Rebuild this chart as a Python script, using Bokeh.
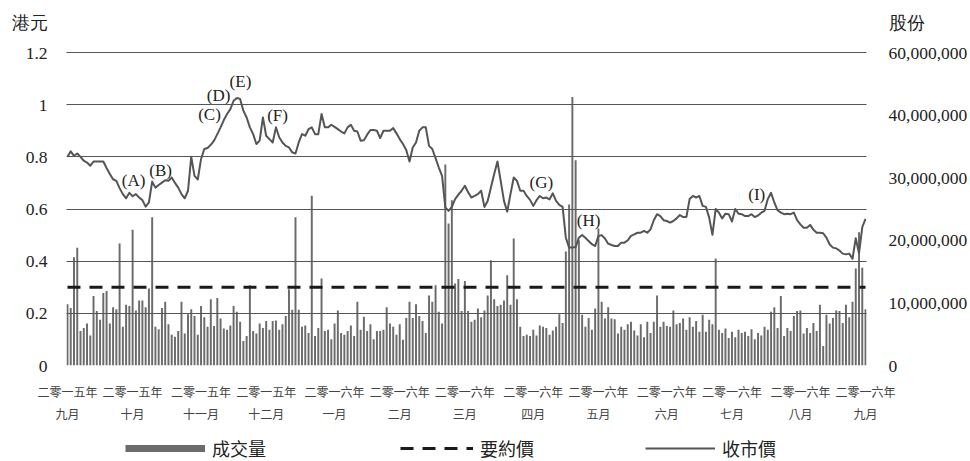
from bokeh.plotting import figure
from bokeh.models import (Range1d, LinearAxis, FixedTicker, NumeralTickFormatter,
                          Legend, LegendItem, ColumnDataSource)
from bokeh.layouts import column
from bokeh.embed import file_html
from bokeh.resources import INLINE
from bokeh.core.properties import value

# ---------------- data ----------------
month_labels = ["二零一五年\n九月", "二零一五年\n十月", "二零一五年\n十一月", "二零一五年\n十二月",
                "二零一六年\n一月", "二零一六年\n二月", "二零一六年\n三月", "二零一六年\n四月",
                "二零一六年\n五月", "二零一六年\n六月", "二零一六年\n七月", "二零一六年\n八月",
                "二零一六年\n九月"]

close_price = [
    0.800, 0.821, 0.804, 0.813, 0.800, 0.785, 0.778, 0.766, 0.782, 0.782,
    0.782, 0.782, 0.757, 0.734, 0.714, 0.708, 0.680, 0.657, 0.641, 0.662,
    0.649, 0.657, 0.644, 0.634, 0.609, 0.625, 0.705, 0.682, 0.692, 0.701,
    0.710, 0.708, 0.721, 0.700, 0.682, 0.657, 0.641, 0.670, 0.800, 0.727,
    0.713, 0.791, 0.830, 0.834, 0.846, 0.862, 0.887, 0.913, 0.941, 0.964,
    0.983, 1.015, 1.026, 1.022, 0.977, 0.951, 0.913, 0.887, 0.849, 0.862,
    0.951, 0.881, 0.868,
    0.855, 0.913, 0.875, 0.855, 0.842, 0.836, 0.817, 0.813, 0.855, 0.887,
    0.881, 0.906, 0.913, 0.887, 0.887, 0.964, 0.913, 0.913, 0.923, 0.915,
    0.906, 0.897, 0.890, 0.913, 0.923, 0.900, 0.897, 0.862, 0.864, 0.885,
    0.903, 0.903, 0.900, 0.872, 0.900, 0.900, 0.900, 0.910, 0.890, 0.868,
    0.849, 0.826, 0.782, 0.836, 0.855, 0.900, 0.913, 0.913, 0.842, 0.830,
    0.795, 0.759, 0.727, 0.606, 0.593, 0.608, 0.638, 0.655, 0.670, 0.689,
    0.664,
    0.644, 0.650, 0.657, 0.670, 0.608, 0.631, 0.682, 0.734, 0.782, 0.708,
    0.631, 0.590, 0.657, 0.721, 0.708, 0.670, 0.670, 0.650, 0.635, 0.612,
    0.634, 0.650, 0.641, 0.644, 0.637, 0.660, 0.631, 0.616, 0.608, 0.490,
    0.452, 0.452, 0.454, 0.490, 0.500, 0.490, 0.477, 0.465, 0.458, 0.496,
    0.500, 0.487, 0.467, 0.462, 0.458, 0.458, 0.471, 0.471, 0.480, 0.497,
    0.503, 0.509, 0.509, 0.516, 0.509, 0.522, 0.557, 0.580, 0.573, 0.557,
    0.554,
    0.548, 0.554, 0.564, 0.577, 0.569, 0.569, 0.638, 0.650, 0.644, 0.650,
    0.612, 0.608, 0.567, 0.501, 0.600, 0.586, 0.564, 0.582, 0.580, 0.552,
    0.600, 0.582, 0.580, 0.573, 0.573, 0.580, 0.569, 0.575, 0.586, 0.593,
    0.638, 0.662, 0.625, 0.595, 0.586, 0.580, 0.582, 0.580, 0.586, 0.557,
    0.541, 0.528, 0.528, 0.539, 0.521, 0.509, 0.509, 0.507, 0.490, 0.464,
    0.452, 0.449, 0.441, 0.429, 0.426, 0.429, 0.409, 0.488, 0.430, 0.530,
    0.562,
]

volume_millions = [
    9.8, 9.2, 17.3, 18.8, 5.5, 6.0, 6.7, 4.8, 11.1, 8.7,
    7.3, 11.6, 11.9, 6.7, 9.3, 9.0, 19.5, 6.2, 9.7, 9.5,
    21.7, 8.8, 10.4, 10.4, 9.3, 12.3, 23.7, 6.2, 5.8, 9.2,
    10.2, 6.6, 4.9, 4.6, 5.5, 10.2, 5.1, 8.2, 9.0, 7.9,
    4.9, 9.5, 7.7, 6.2, 10.6, 6.3, 10.8, 7.5, 5.9, 5.7,
    6.4, 9.5, 8.6, 7.0, 3.9, 4.7, 12.8, 5.5, 5.1, 6.7,
    6.0, 7.1, 5.7,
    7.1, 7.2, 5.7, 6.6, 7.9, 12.2, 8.9, 23.7, 8.9, 6.2,
    6.4, 5.2, 27.1, 4.7, 6.0, 13.9, 5.5, 5.7, 4.2, 6.7,
    8.8, 5.2, 4.9, 5.5, 6.4, 4.7, 10.2, 5.7, 7.8, 5.5,
    6.6, 4.2, 5.5, 5.5, 5.7, 9.3, 6.7, 6.2, 4.9, 6.6,
    4.1, 7.6, 10.2, 7.6, 9.8, 7.9, 7.1, 5.2, 11.2, 10.2,
    12.8, 8.6, 6.7, 32.1, 22.7, 26.4, 13.1, 13.8, 8.7, 13.5,
    8.7,
    7.0, 7.3, 9.1, 7.7, 8.8, 11.2, 16.8, 10.6, 9.5, 9.7,
    10.4, 14.4, 9.7, 20.3, 10.6, 6.2, 4.7, 4.9, 4.7, 5.7,
    4.8, 6.4, 6.2, 6.0, 4.9, 5.6, 6.2, 8.2, 6.8, 18.2,
    25.7, 42.9, 32.8, 20.0, 8.1, 6.2, 7.6, 5.7, 9.1, 21.9,
    10.2, 7.5, 9.3, 7.5, 7.4, 5.1, 6.2, 5.7, 6.6, 7.0,
    5.6, 4.8, 6.6, 4.5, 7.0, 5.2, 7.0, 11.2, 6.2, 7.0,
    6.3,
    6.2, 8.8, 6.6, 6.8, 7.5, 5.7, 7.7, 6.2, 7.1, 5.4,
    8.1, 5.4, 7.3, 6.6, 17.1, 5.7, 5.2, 5.9, 4.4, 5.4,
    4.5, 5.7, 5.2, 5.4, 4.7, 5.8, 4.2, 5.2, 4.8, 6.2,
    5.7, 8.6, 9.3, 6.0, 11.1, 4.7, 6.0, 5.5, 7.9, 8.7,
    8.8, 5.1, 6.0, 5.2, 6.8, 5.5, 9.7, 3.1, 8.1, 6.7,
    7.6, 8.8, 8.7, 6.8, 9.7, 7.7, 10.2, 15.5, 21.3, 15.6,
    9.0,
]

offer_price = 0.3

price_ticks = [0, 0.2, 0.4, 0.6, 0.8, 1.0, 1.2]
volume_ticks = [0, 10000000, 20000000, 30000000, 40000000, 50000000]
volume_tick_labels = ["0", "10,000,000", "20,000,000", "30,000,000", "40,000,000", "60,000,000"]

ann_text = ["(A)", "(B)", "(C)", "(D)", "(E)", "(F)", "(G)", "(H)", "(I)"]
ann_day = [20.3, 28.6, 43.6, 46.4, 53.1, 64.5, 145.5, 160.0, 211.6]
ann_price = [0.708, 0.746, 0.962, 1.035, 1.088, 0.958, 0.700, 0.555, 0.654]

left_unit = "港元"
right_unit = "股份"
legend_labels = ["成交量", "要約價", "收市價"]

# ---------------- layout constants ----------------
SERIF = "Liberation Serif"
CJK = "Noto Sans CJK TC"
W = 970
TOP = 16            # frame top (px)
FRAME_H = 349       # frame height (px)
BOTTOM = 60         # space for month labels
MAIN_H = TOP + FRAME_H + BOTTOM
LEG_H = 461 - MAIN_H
GRID_SPAN_PX = 313  # pixels between 0 and the 1.2 grid line
PRICE_TOP = 1.2 * FRAME_H / GRID_SPAN_PX
VOL_TOP = 50e6 * FRAME_H / GRID_SPAN_PX
UNIT_FROM_BOTTOM = FRAME_H - 6      # unit captions sit 6 px below the frame top
left_unit_tick = PRICE_TOP * UNIT_FROM_BOTTOM / FRAME_H
right_unit_tick = VOL_TOP * UNIT_FROM_BOTTOM / FRAME_H

BAR_COLOR = "#6b6b6b"
LINE_COLOR = "#555555"
DASH_COLOR = "#1a1a1a"
TEXT = "#222222"

# ---------------- main chart ----------------
N = len(close_price)
day = list(range(N))
volume = [v * 1e6 for v in volume_millions]
offer = [offer_price] * N

src = ColumnDataSource(dict(day=day, close=close_price, volume=volume, offer=offer))

p = figure(width=W, height=MAIN_H,
           x_range=Range1d(-0.3, N - 1 + 0.3), y_range=Range1d(0, PRICE_TOP),
           output_backend="svg", toolbar_location=None,
           min_border_left=66, min_border_right=104,
           min_border_top=TOP, min_border_bottom=BOTTOM)
p.outline_line_color = None
p.xgrid.visible = False
p.extra_y_ranges = {"vol": Range1d(0, VOL_TOP)}

bars = p.vbar(x="day", top="volume", width=0.6, bottom=0, source=src,
              y_range_name="vol", fill_color=BAR_COLOR, line_color=None)
offer_r = p.line(x="day", y="offer", source=src, line_color=DASH_COLOR,
                 line_width=3, line_dash="13 9")
close_r = p.line(x="day", y="close", source=src, line_color=LINE_COLOR,
                 line_width=2, line_join="round")

ann_src = ColumnDataSource(dict(x=ann_day, y=ann_price, t=ann_text))
p.text(x="x", y="y", text="t", source=ann_src, text_font=value(SERIF),
       text_font_size="17px", text_color=TEXT, text_align="center",
       text_baseline="middle")

p.ygrid.ticker = FixedTicker(ticks=price_ticks)
p.ygrid.grid_line_color = "#555555"
p.ygrid.grid_line_width = 1
p.ygrid.level = "guide"

la = p.yaxis[0]
la.ticker = FixedTicker(ticks=price_ticks + [left_unit_tick])
la.formatter = NumeralTickFormatter(format="0.[0]")
la.major_label_overrides = {left_unit_tick: left_unit}
la.axis_line_color = None
la.major_tick_line_color = None
la.minor_tick_line_color = None
la.major_label_standoff = 13
la.major_label_text_font = SERIF
la.major_label_text_font_size = "17.5px"
la.major_label_text_color = TEXT

ra = LinearAxis(y_range_name="vol")
ra.ticker = FixedTicker(ticks=volume_ticks + [right_unit_tick])
overrides = {t: s for t, s in zip(volume_ticks, volume_tick_labels)}
overrides[right_unit_tick] = right_unit
ra.major_label_overrides = overrides
ra.axis_line_color = None
ra.major_tick_line_color = None
ra.minor_tick_line_color = None
ra.major_label_standoff = 16
ra.major_label_text_font = SERIF
ra.major_label_text_font_size = "17.5px"
ra.major_label_text_color = TEXT
p.add_layout(ra, "right")

month_ticks = [round(i * (N - 1) / 12) for i in range(len(month_labels))]
xa = p.xaxis[0]
xa.ticker = FixedTicker(ticks=month_ticks)
xa.major_label_overrides = {t: s for t, s in zip(month_ticks, month_labels)}
xa.axis_line_color = None
xa.major_tick_line_color = None
xa.minor_tick_line_color = None
xa.major_label_standoff = 11
xa.major_label_text_font = CJK
xa.major_label_text_font_size = "12px"
xa.major_label_text_color = "#444444"
xa.major_label_text_line_height = 1.32

# ---------------- legend strip ----------------
leg = figure(width=W, height=LEG_H, x_range=Range1d(0, 1), y_range=Range1d(0, 1),
             output_backend="svg", toolbar_location=None,
             x_axis_type=None, y_axis_type=None,
             min_border_left=0, min_border_right=0,
             min_border_top=0, min_border_bottom=0)
leg.outline_line_color = None
leg.xgrid.visible = False
leg.ygrid.visible = False

nan = [float("nan")]
vol_proxy = leg.line(x=nan, y=nan, line_color=BAR_COLOR, line_width=7)
offer_proxy = leg.line(x=nan, y=nan, line_color=DASH_COLOR, line_width=3, line_dash="13 9")
close_proxy = leg.line(x=nan, y=nan, line_color=LINE_COLOR, line_width=2)


def make_legend(r, label, x, gw):
    lg = Legend(items=[LegendItem(label=label, renderers=[r])],
                location=(x, 0), orientation="horizontal",
                glyph_width=gw, glyph_height=16, label_height=16,
                label_standoff=7, padding=0, margin=0, spacing=0,
                border_line_color=None, background_fill_alpha=0,
                label_text_font=CJK, label_text_font_size="18px",
                label_text_color=TEXT)
    leg.add_layout(lg, "center")


# x positions relative to the (aligned) plot frame, which starts 66 px from the left
make_legend(vol_proxy, legend_labels[0], 59, 80)
make_legend(offer_proxy, legend_labels[1], 334, 73)
make_legend(close_proxy, legend_labels[2], 579, 70)

layout = column(p, leg, spacing=0)
open("out.html", "w").write(file_html(layout, INLINE))
